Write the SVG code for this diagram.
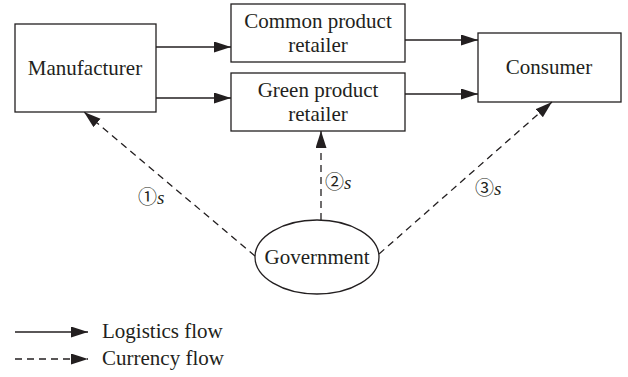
<svg xmlns="http://www.w3.org/2000/svg" width="628" height="377" viewBox="0 0 628 377">
<style>
.box{fill:#fff;stroke:#231f20;stroke-width:1.3}
.t{font-family:"Liberation Serif","Times New Roman",serif;font-size:21px;fill:#231f20;text-anchor:middle}
.lg{font-family:"Liberation Serif","Times New Roman",serif;font-size:21px;fill:#231f20}
.lab{font-family:"Liberation Serif","DejaVu Serif",serif;font-size:19px;fill:#231f20}
.cn{font-family:"Noto Sans CJK JP","DejaVu Sans",sans-serif;font-size:19px;fill:#231f20}
.solid{stroke:#231f20;stroke-width:1.3;fill:none;marker-end:url(#ah)}
.dash{stroke:#231f20;stroke-width:1.3;fill:none;stroke-dasharray:7 5;marker-end:url(#ah)}
</style>
<defs>
<marker id="ah" markerUnits="userSpaceOnUse" markerWidth="18" markerHeight="12" refX="17" refY="5.5" orient="auto">
<path d="M0,0 L17,5.5 L0,11 z" fill="#231f20"/>
</marker>
</defs>
<g id="manufacturer">
<rect class="box" x="15" y="24" width="141" height="88"/>
<text class="t" x="85" y="75">Manufacturer</text>
</g>
<g id="common">
<rect class="box" x="231" y="4" width="174" height="58"/>
<text class="t" x="318" y="28">Common product</text>
<text class="t" x="318" y="52">retailer</text>
</g>
<g id="green">
<rect class="box" x="231" y="73" width="174" height="58"/>
<text class="t" x="318" y="97">Green product</text>
<text class="t" x="318" y="121">retailer</text>
</g>
<g id="consumer">
<rect class="box" x="478" y="33" width="143" height="69"/>
<text class="t" x="549" y="74">Consumer</text>
</g>
<g id="government">
<ellipse class="box" cx="317" cy="257" rx="62" ry="37"/>
<text class="t" x="317" y="264">Government</text>
</g>
<g id="connectors">
<line class="solid" x1="156" y1="47" x2="231" y2="47"/>
<line class="solid" x1="156" y1="98" x2="231" y2="98"/>
<line class="solid" x1="405" y1="40" x2="478" y2="40"/>
<line class="solid" x1="405" y1="94" x2="478" y2="94"/>
<line class="dash" x1="255" y1="256" x2="84" y2="112"/>
<line class="dash" x1="321" y1="220" x2="321" y2="131"/>
<line class="dash" x1="379" y1="254" x2="552" y2="102"/>
<text class="lab" x="138" y="204"><tspan class="cn">①</tspan><tspan font-style="italic">s</tspan></text>
<text class="lab" x="325" y="189"><tspan class="cn">②</tspan><tspan font-style="italic">s</tspan></text>
<text class="lab" x="475" y="195"><tspan class="cn">③</tspan><tspan font-style="italic">s</tspan></text>
</g>
<g id="legend">
<line class="solid" x1="15" y1="332" x2="88" y2="332"/>
<line class="dash" x1="15" y1="359" x2="88" y2="359"/>
<text class="lg" x="102" y="338">Logistics flow</text>
<text class="lg" x="102" y="365">Currency flow</text>
</g>
</svg>
